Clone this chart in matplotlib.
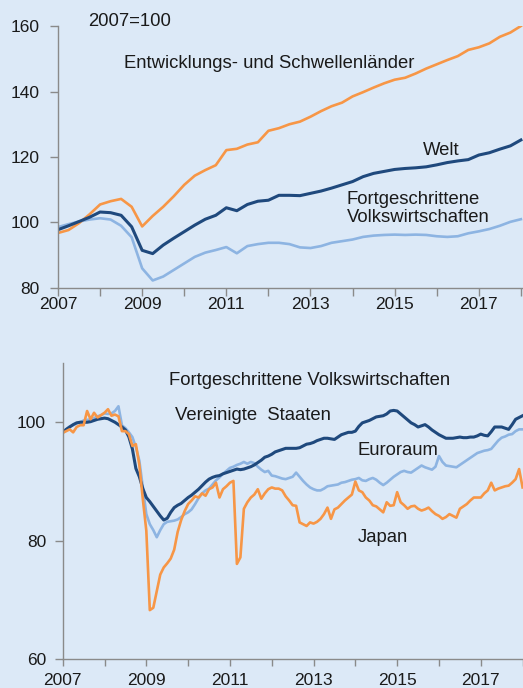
import numpy as np
import matplotlib
matplotlib.use('Agg')
from matplotlib import pyplot as plt

plt.rcParams['font.family'] = ['Liberation Sans', 'DejaVu Sans']

# Oberes Bild: Quartalswerte 2007Q1 .. 2018Q1 (2007=100)
schwellen = [96.8, 97.7, 99.8, 102.5, 105.5, 106.5, 107.2, 104.8,
             98.8, 102.0, 104.8, 108.0, 111.5, 114.3, 116.0, 117.5,
             122.1, 122.5, 123.8, 124.5, 128.0, 128.8, 130.0, 130.8,
             132.3, 134.0, 135.5, 136.6, 138.5, 139.8, 141.2, 142.5,
             143.6, 144.2, 145.5, 147.0, 148.3, 149.6, 150.8, 152.7,
             153.5, 154.7, 156.7, 158.0, 160.0]
welt = [97.8, 99.0, 100.3, 101.6, 103.2, 103.0, 102.2, 98.7,
        91.5, 90.5, 93.1, 95.2, 97.2, 99.2, 101.0, 102.2,
        104.5, 103.6, 105.5, 106.5, 106.8, 108.3, 108.3, 108.2,
        108.9, 109.6, 110.5, 111.5, 112.5, 114.0, 115.0, 115.6,
        116.2, 116.5, 116.7, 117.0, 117.6, 118.3, 118.8, 119.2,
        120.6, 121.3, 122.4, 123.4, 125.2]
fortgeschritten = [98.6, 99.5, 100.3, 100.9, 101.3, 100.9, 99.0, 95.5,
                   86.0, 82.3, 83.5, 85.5, 87.5, 89.5, 90.8, 91.6,
                   92.5, 90.6, 92.8, 93.4, 93.8, 93.8, 93.4, 92.4,
                   92.2, 92.8, 93.8, 94.3, 94.8, 95.6, 96.0, 96.2,
                   96.3, 96.2, 96.3, 96.2, 95.8, 95.6, 95.8, 96.7,
                   97.3, 98.0, 99.0, 100.2, 101.0]

# Unteres Bild: Monatswerte Jan 2007 .. Jan 2018
usa = [98.3, 98.8, 99.2, 99.6, 99.9, 100.0, 100.0, 100.0, 100.1, 100.3, 100.5, 100.6,
       100.7, 100.6, 100.3, 100.0, 99.6, 99.2, 98.7, 97.5, 95.5, 92.2, 90.8, 88.8,
       87.3, 86.6, 85.8, 85.0, 84.2, 83.5, 83.8, 84.8, 85.6, 86.0, 86.3, 86.8,
       87.3, 87.7, 88.2, 88.7, 89.3, 89.9, 90.4, 90.7, 90.9, 91.0, 91.3, 91.5,
       91.7, 91.9, 92.1, 92.0, 92.1, 92.3, 92.5, 92.8, 93.2, 93.6, 94.1, 94.3,
       94.6, 95.0, 95.2, 95.4, 95.6, 95.6, 95.6, 95.6, 95.7, 96.0, 96.3, 96.4,
       96.6, 96.9, 97.1, 97.3, 97.3, 97.2, 97.1, 97.5, 97.9, 98.1, 98.3, 98.3,
       98.5, 99.3, 99.9, 100.1, 100.3, 100.6, 100.9, 101.0, 101.1, 101.4, 101.9, 102.0,
       101.9, 101.4, 100.9, 100.4, 99.9, 99.6, 99.2, 99.4, 99.6, 99.2, 98.7, 98.3,
       97.9, 97.6, 97.3, 97.3, 97.3, 97.4, 97.5, 97.4, 97.4, 97.5, 97.5, 97.7,
       98.0, 97.8, 97.7, 98.4, 99.2, 99.2, 99.2, 99.0, 98.8, 99.6, 100.5, 100.8,
       101.1]
euroraum = [98.3, 98.8, 99.3, 99.5, 99.8, 100.0, 100.3, 100.4, 100.5, 100.7, 101.0, 101.2,
            101.5, 101.4, 101.5, 101.9, 102.7, 99.5, 99.0, 98.3, 97.5, 95.8, 93.5, 89.0,
            84.5, 82.8, 81.8, 80.6, 81.8, 82.8, 83.2, 83.3, 83.4, 83.6, 84.0, 84.5,
            84.8, 85.3, 86.2, 87.2, 88.0, 88.5, 88.8, 89.5, 90.2, 90.7, 91.3, 91.8,
            92.3, 92.5, 92.8, 93.0, 93.3, 93.0, 93.3, 93.1, 92.5, 92.0, 91.6, 91.8,
            91.0, 90.9, 90.7, 90.5, 90.4, 90.6, 90.8, 91.5, 90.8, 90.1, 89.5, 89.0,
            88.7, 88.5, 88.5, 88.8, 89.2, 89.3, 89.4, 89.5, 89.8, 89.9, 90.1, 90.3,
            90.4, 90.6, 90.2, 90.1, 90.4, 90.6, 90.3, 89.8, 89.4, 89.8, 90.3, 90.8,
            91.2, 91.6, 91.8, 91.6, 91.5, 91.9, 92.3, 92.7, 92.4, 92.2, 92.0, 92.5,
            94.3, 93.3, 92.7, 92.6, 92.5, 92.4, 92.8, 93.2, 93.6, 94.0, 94.4, 94.8,
            95.0, 95.2, 95.3, 95.5, 96.2, 96.9, 97.4, 97.6, 97.9, 98.0, 98.5, 98.8,
            98.8]
japan = [98.2, 98.5, 98.8, 98.3, 99.2, 99.5, 99.5, 101.9, 100.5, 101.6, 100.8, 101.2,
         101.6, 102.2, 101.1, 101.3, 101.0, 98.5, 98.5, 98.0, 96.0, 96.3, 92.8, 87.0,
         81.7, 68.3, 68.7, 71.5, 74.3, 75.5, 76.2, 77.0, 78.5, 81.5, 83.5, 85.0,
         86.2, 86.8, 87.5, 87.3, 88.0, 87.6, 88.7, 89.0, 89.8, 87.3, 88.7, 89.2,
         89.8, 90.1, 76.1, 77.2, 85.4, 86.5, 87.3, 87.8, 88.7, 87.1, 88.0, 88.7,
         89.0, 88.8, 88.8, 88.5, 87.5, 86.8, 86.0, 85.9, 83.1, 82.8, 82.5, 83.1,
         82.9, 83.2, 83.7, 84.5, 85.6, 83.7, 85.3, 85.6, 86.2, 86.8, 87.3, 87.8,
         90.0, 88.5, 88.2, 87.3, 86.8, 86.0, 85.8, 85.3, 84.8, 86.5, 85.9, 86.0,
         88.2, 86.5, 86.0, 85.4, 85.8, 85.9, 85.4, 85.1, 85.3, 85.6, 85.0, 84.5,
         84.2, 83.7, 84.0, 84.5, 84.2, 83.9, 85.4, 85.8, 86.2, 86.8, 87.3, 87.3,
         87.3, 88.0, 88.5, 89.8, 88.5, 88.8, 89.0, 89.2, 89.3, 89.8, 90.4, 92.1,
         89.0]

jahre = np.arange(2007, 2019)
jahr_labels = [str(j) if j % 2 == 1 else '' for j in jahre]

t_quartal = 2007 + np.arange(len(welt)) / 4
t_monat = 2007 + np.arange(len(usa)) / 12

hintergrund = '#DCE9F7'
orange = '#F79646'
dunkelblau = '#1F497D'
hellblau = '#8DB4E2'
grau = '#8A8A8A'
textfarbe = '#1A1A1A'

fig = plt.figure(figsize=(5.23, 6.88), dpi=100, facecolor=hintergrund)


def achse_stylen(ax):
    ax.set_facecolor(hintergrund)
    for s in ['top', 'right']:
        ax.spines[s].set_visible(False)
    for s in ['left', 'bottom']:
        ax.spines[s].set_color(grau)
        ax.spines[s].set_linewidth(1.0)
    ax.set_xticks(jahre)
    ax.set_xticklabels(jahr_labels)
    ax.tick_params(colors=grau, labelcolor=textfarbe, labelsize=12.5, width=1.0)


# oberes Diagramm
ax1 = fig.add_axes([0.1109, 0.5814, 0.8891, 0.3808])
achse_stylen(ax1)
ax1.plot(t_quartal, fortgeschritten, color=hellblau, lw=1.9)
ax1.plot(t_quartal, schwellen, color=orange, lw=1.9)
ax1.plot(t_quartal, welt, color=dunkelblau, lw=2.2)
ax1.set_xlim(2007, 2018.05)
ax1.set_ylim(80, 160)
ax1.set_yticks([80, 100, 120, 140, 160])
ax1.tick_params(axis='y', length=6, pad=7)
ax1.tick_params(axis='x', length=6, pad=0.5)
ax1.text(2007.71, 161.3, '2007=100', fontsize=13.3, color=textfarbe, va='center', ha='left')
ax1.text(2012.01, 148.6, 'Entwicklungs- und Schwellenländer', fontsize=13.3,
         color=textfarbe, va='center', ha='center')
ax1.text(2016.1, 121.9, 'Welt', fontsize=13.3, color=textfarbe, va='center', ha='center')
ax1.text(2013.86, 104.3, 'Fortgeschrittene\nVolkswirtschaften', fontsize=13.3,
         color=textfarbe, va='center', ha='left', linespacing=1.05)

# unteres Diagramm
ax2 = fig.add_axes([0.1199, 0.0417, 0.8801, 0.4307])
achse_stylen(ax2)
ax2.plot(t_monat, euroraum, color=hellblau, lw=1.9)
ax2.plot(t_monat, usa, color=dunkelblau, lw=2.2)
ax2.plot(t_monat, japan, color=orange, lw=1.9)
ax2.set_xlim(2007, 2018.01)
ax2.set_ylim(60, 110)
ax2.set_yticks([60, 80, 100])
ax2.tick_params(axis='y', length=6, pad=6)
ax2.tick_params(axis='x', length=5, pad=5)
ax2.text(2012.91, 107.1, 'Fortgeschrittene Volkswirtschaften', fontsize=13.3,
         color=textfarbe, va='center', ha='center')
ax2.text(2011.55, 101.06, 'Vereinigte  Staaten', fontsize=13.3, color=textfarbe,
         va='center', ha='center')
ax2.text(2015.03, 95.3, 'Euroraum', fontsize=13.3, color=textfarbe, va='center', ha='center')
ax2.text(2014.66, 80.5, 'Japan', fontsize=13.3, color=textfarbe, va='center', ha='center')

plt.savefig('out.png', dpi=100, facecolor=hintergrund)
